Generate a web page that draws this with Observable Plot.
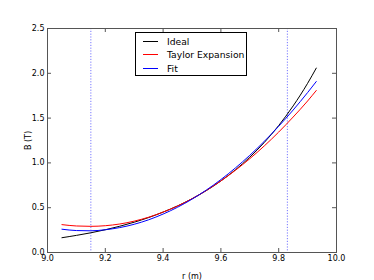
<!DOCTYPE html>
<html>
<head>
<meta charset="utf-8">
<script src="https://cdn.jsdelivr.net/npm/d3@7"></script>
<script src="https://cdn.jsdelivr.net/npm/@observablehq/plot@0.6"></script>
<style>
  html, body { margin: 0; padding: 0; background: #fff; }
  #wrap { position: relative; width: 374px; height: 280px; }
  #legend {
    position: absolute; left: 135px; top: 32px; width: 110px; height: 42px;
    border: 1px solid #000; background: #fff; box-sizing: content-box;
    font-family: "DejaVu Sans", sans-serif; font-size: 9.2px; color: #000;
  }
  .row { position: absolute; left: 0; height: 12px; display: flex; align-items: center; }
  .sw { width: 15px; height: 0; border-top: 1px solid; margin-left: 7px; margin-right: 9px; }
</style>
</head>
<body>
<div id="wrap"></div>
<script>
// Data
const r = [9.05, 9.10, 9.15, 9.20, 9.25, 9.30, 9.35, 9.40, 9.45, 9.50, 9.55, 9.60, 9.65, 9.70, 9.75, 9.80, 9.85, 9.90, 9.93];
const ideal  = [0.165, 0.191, 0.220, 0.254, 0.293, 0.338, 0.390, 0.451, 0.520, 0.600, 0.692, 0.799, 0.922, 1.064, 1.228, 1.417, 1.636, 1.888, 2.058];
const taylor = [0.311, 0.296, 0.292, 0.299, 0.318, 0.350, 0.394, 0.451, 0.519, 0.600, 0.693, 0.799, 0.917, 1.047, 1.189, 1.344, 1.512, 1.691, 1.808];
const fit    = [0.260, 0.245, 0.242, 0.254, 0.278, 0.315, 0.365, 0.429, 0.505, 0.595, 0.698, 0.814, 0.943, 1.085, 1.240, 1.409, 1.590, 1.785, 1.908];
const bounds = [9.15, 9.83];
const xTicks = [9.0, 9.2, 9.4, 9.6, 9.8, 10.0];
const yTicks = [0.0, 0.5, 1.0, 1.5, 2.0, 2.5];
const seriesNames = ["Ideal", "Taylor Expansion", "Fit"];
const seriesColors = ["#000000", "#ff0000", "#0000ff"];

const series = [ideal, taylor, fit];
const rows = series.flatMap((vals, k) => r.map((x, i) => ({r: x, B: vals[i], s: seriesNames[k]})));

const plot = Plot.plot({
  width: 374,
  height: 280,
  marginLeft: 47,
  marginRight: 38,
  marginTop: 28,
  marginBottom: 28,
  style: {fontFamily: "DejaVu Sans, sans-serif", fontSize: "8px", color: "#000", background: "#fff"},
  x: {domain: [9, 10]},
  y: {domain: [0, 2.5]},
  color: {domain: seriesNames, range: seriesColors},
  marks: [
    Plot.ruleX(bounds, {stroke: "#7777ff", strokeWidth: 1, strokeDasharray: "1.2,1.6"}),
    Plot.line(rows, {x: "r", y: "B", stroke: "s", z: "s", strokeWidth: 1, curve: "monotone-x"}),
    Plot.frame({stroke: "#555"}),
    // inward tick marks on all four sides
    Plot.ruleX(xTicks, {y1: 0, y2: 0, insetTop: -4, stroke: "#555"}),
    Plot.ruleX(xTicks, {y1: 2.5, y2: 2.5, insetBottom: -4, stroke: "#555"}),
    Plot.ruleY(yTicks, {x1: 9, x2: 9, insetRight: -4, stroke: "#555"}),
    Plot.ruleY(yTicks, {x1: 10, x2: 10, insetLeft: -4, stroke: "#555"}),
    Plot.axisX({ticks: xTicks, tickFormat: ".1f", tickSize: 0, tickPadding: 3, label: "r (m)", labelAnchor: "center", labelOffset: 26, labelArrow: "none"}),
    Plot.axisY({ticks: yTicks, tickFormat: ".1f", tickSize: 0, tickPadding: 3, label: "B (T)", labelAnchor: "center", labelOffset: 22, labelArrow: "none"})
  ]
});

const wrap = document.getElementById("wrap");
wrap.appendChild(plot);

const legend = document.createElement("div");
legend.id = "legend";
const rowTops = [2, 15.5, 29];
seriesNames.forEach((name, k) => {
  const row = document.createElement("div");
  row.className = "row";
  row.style.top = rowTops[k] + "px";
  const sw = document.createElement("span");
  sw.className = "sw";
  sw.style.borderTopColor = seriesColors[k];
  const t = document.createElement("span");
  t.textContent = name;
  row.appendChild(sw);
  row.appendChild(t);
  legend.appendChild(row);
});
wrap.appendChild(legend);
</script>
</body>
</html>
